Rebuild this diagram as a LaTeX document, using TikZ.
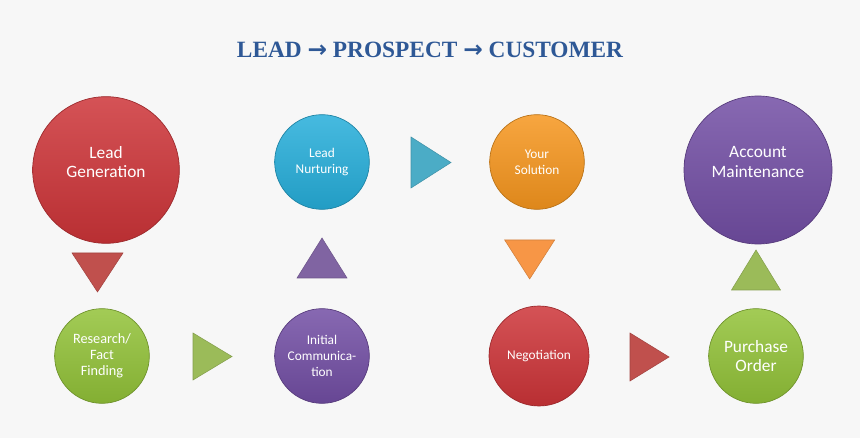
\documentclass[tikz,border=0pt]{standalone}
\usepackage{fontspec}
\setmainfont{Carlito}
\newfontfamily\titlefont{Liberation Serif}
\newfontfamily\arrowfont{DejaVu Sans}
\usepackage{xcolor}

\definecolor{bgGrey}{RGB}{247,247,247}
\definecolor{titleBlue}{RGB}{46,88,150}
\definecolor{ballRed}{RGB}{205,52,56}
\definecolor{ballGreen}{RGB}{146,194,56}
\definecolor{ballPurple}{RGB}{114,78,164}
\definecolor{ballTeal}{RGB}{38,174,218}
\definecolor{ballOrange}{RGB}{246,150,30}
\definecolor{triRed}{RGB}{192,80,77}
\definecolor{triGreen}{RGB}{155,187,89}
\definecolor{triPurple}{RGB}{128,100,162}
\definecolor{triTeal}{RGB}{75,172,198}
\definecolor{triOrange}{RGB}{247,150,70}

\begin{document}
\begin{tikzpicture}[x=0.75pt,y=-0.75pt,
  ball/.style={circle,top color=#1!85!white,bottom color=#1!90!black,draw=#1!75!black,line width=0.5pt,
    text=white,align=center,inner sep=0pt},
  big ball/.style={ball=#1,minimum size=110pt,font=\fontsize{13}{14.5}\selectfont,text depth=12pt},
  small ball/.style={ball=#1,minimum size=71pt,font=\fontsize{10}{12}\selectfont},
  tri/.style={fill=#1,draw=#1!85!black,line width=0.4pt}]

% background and frame
\fill[bgGrey] (0,0) rectangle (860,438);
\useasboundingbox (0,0) rectangle (860,438);

% title
\node[font=\titlefont\fontsize{17.5}{21}\selectfont\bfseries,text=titleBlue] (title) at (430,50)
  {LEAD {\arrowfont\bfseries →} PROSPECT {\arrowfont\bfseries →} CUSTOMER};

% circles
\node[big ball=ballRed] (leadgen) at (106,170) {Lead\\Generation};
\node[small ball=ballGreen,font=\fontsize{10.7}{12}\selectfont] (research) at (102,356) {Research/\\Fact\\Finding};
\node[small ball=ballPurple] (initial) at (322,356) {Initial\\Communica-\\tion};
\node[small ball=ballTeal] (nurture) at (322,162) {Lead\\Nurturing};
\node[small ball=ballOrange] (solution) at (537,162) {Your\\Solution};
\node[small ball=ballRed,minimum size=75pt] (negotiation) at (539,356) {Negotiation};
\node[small ball=ballGreen,font=\fontsize{13}{14.5}\selectfont] (purchase) at (756,356) {Purchase\\Order};
\node[big ball=ballPurple,minimum size=111pt] (account) at (758,170) {Account\\Maintenance};

% triangles between the steps
\coordinate (t1) at (106,253);
\coordinate (t2) at (193,333);
\coordinate (t3) at (322,238);
\coordinate (t4) at (411,137);
\coordinate (t5) at (538,240);
\coordinate (t6) at (630,333);
\coordinate (t7) at (756,250);

\fill[tri=triRed] ([xshift=-25.5]t1) -- ++(51,0) -- ++(-25.5,39) -- cycle;
\fill[tri=triGreen] (t2) -- ++(39,23.5) -- ++(-39,23.5) -- cycle;
\fill[tri=triPurple] (t3) -- ++(25,40) -- ++(-50,0) -- cycle;
\fill[tri=triTeal] (t4) -- ++(40,25.5) -- ++(-40,25.5) -- cycle;
\fill[tri=triOrange] ([xshift=-25]t5) -- ++(50,0) -- ++(-25,39) -- cycle;
\fill[tri=triRed] (t6) -- ++(39,24) -- ++(-39,24) -- cycle;
\fill[tri=triGreen] (t7) -- ++(24.5,40) -- ++(-49,0) -- cycle;

\end{tikzpicture}
\end{document}
